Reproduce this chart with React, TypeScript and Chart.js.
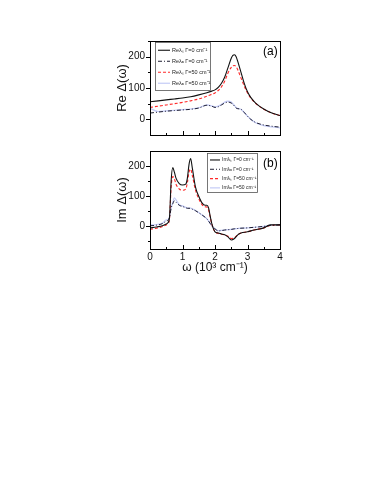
import React, { useEffect, useRef } from "react";
import { Chart, registerables } from "chart.js";
Chart.register(...registerables);

const FONT = "'Liberation Sans', Arial, Helvetica, sans-serif";

// ---------- Panel (a): Re Δ(ω) ----------
const reX = [0, 0.25, 0.5, 0.75, 1, 1.25, 1.5, 1.75, 1.9, 2.0, 2.1, 2.2, 2.3, 2.4, 2.5, 2.55, 2.6, 2.65, 2.7, 2.8, 2.9, 3.0, 3.1, 3.25, 3.5, 3.75, 4.0];
const reS0 = [56, 59, 62, 65, 68, 72, 78, 85, 90, 94, 102, 115, 135, 165, 195, 204, 206, 200, 185, 150, 115, 88, 70, 52, 33, 20, 12];
const reA0 = [20, 23, 26, 28, 30, 32, 36, 45, 42, 38, 40, 46, 52, 55, 52, 48, 42, 36, 34, 32, 22, 10, 0, -10, -18, -22, -25];
const reS50 = [38, 42, 46, 50, 54, 59, 65, 74, 80, 84, 92, 104, 122, 148, 166, 171, 172, 168, 158, 132, 106, 84, 68, 51, 32, 20, 12];
const reA50 = [35, 25, 27, 29, 31, 33, 37, 46, 43, 40, 42, 48, 55, 58, 55, 50, 44, 38, 35, 32, 22, 10, 0, -11, -20, -24, -27];
const reLabels = ["Reλₛ Γ=0 cm⁻¹", "Reλₐ Γ=0 cm⁻¹", "Reλₛ Γ=50 cm⁻¹", "Reλₐ Γ=50 cm⁻¹"];
const reYTicks = [0, 100, 200];
const reYMinor = [-50, 50, 150, 250];

// ---------- Panel (b): Im Δ(ω) ----------
const imX = [0, 0.2, 0.4, 0.5, 0.55, 0.6, 0.65, 0.7, 0.75, 0.8, 0.9, 1.0, 1.1, 1.15, 1.2, 1.25, 1.3, 1.4, 1.5, 1.6, 1.7, 1.75, 1.8, 1.85, 1.9, 2.0, 2.1, 2.2, 2.3, 2.4, 2.5, 2.6, 2.7, 2.8, 3.0, 3.2, 3.5, 3.7, 4.0];
const imS0 = [-5, -2, 3, 8, 12, 30, 150, 195, 180, 160, 142, 137, 140, 160, 205, 225, 195, 130, 100, 78, 70, 70, 62, 35, 10, -18, -22, -25, -28, -35, -45, -40, -28, -22, -18, -12, -5, 5, 5];
const imA0 = [2, 4, 10, 18, 20, 30, 60, 75, 85, 80, 70, 66, 62, 60, 60, 60, 57, 52, 45, 38, 30, 25, 18, 10, 2, -8, -15, -14, -12, -11, -10, -8, -7, -6, -5, -3, 0, 3, 5];
const imS50 = [-10, -6, 0, 5, 8, 25, 130, 165, 158, 140, 124, 120, 124, 145, 180, 190, 170, 120, 92, 72, 65, 64, 55, 32, 8, -18, -23, -26, -28, -33, -40, -38, -28, -22, -18, -12, -5, 3, 5];
const imA50 = [5, 6, 12, 22, 22, 32, 62, 78, 95, 88, 72, 68, 63, 61, 61, 61, 58, 53, 46, 38, 30, 25, 18, 10, 2, -8, -14, -13, -12, -11, -10, -8, -7, -6, -5, -3, 0, 4, 6];
const imLabels = ["Imλₛ Γ=0 cm⁻¹", "Imλₐ Γ=0 cm⁻¹", "Imλₛ Γ=50 cm⁻¹", "Imλₐ Γ=50 cm⁻¹"];
const imYTicks = [0, 100, 200];
const imYMinor = [-50, 50, 150];

const xTicks = [0, 1, 2, 3, 4];
const xMinor = [0.5, 1.5, 2.5, 3.5];

const styles = [
  { color: "#111111", dash: [] as number[], width: 1.1 },
  { color: "#1c1c30", dash: [4, 2, 1, 2], width: 1.0 },
  { color: "#ff2a2a", dash: [3, 2], width: 1.1 },
  { color: "#c4cbf6", dash: [] as number[], width: 1.2 },
];

function makeDatasets(xs: number[], series: number[][], labels: string[]) {
  return series.map((s, i) => ({
    label: labels[i],
    data: xs.map((x, j) => ({ x, y: s[j] })),
    borderColor: styles[i].color,
    borderDash: styles[i].dash,
    borderWidth: styles[i].width,
    pointRadius: 0,
    fill: false,
    cubicInterpolationMode: "monotone" as const,
  }));
}

function decorPlugin(opts: {
  id: string;
  panel: string;
  panelDx: number;
  panelDy: number;
  yMajor: number[];
  yMinor: number[];
  legend: { dx: number; dy: number; w: number; h: number; rowH: number; sample: number; font: number };
}) {
  return {
    id: opts.id,
    afterDraw(chart: any) {
      const { ctx, chartArea } = chart;
      const { left, right, top, bottom } = chartArea;
      const x = chart.scales.x;
      const y = chart.scales.y;
      ctx.save();
      ctx.strokeStyle = "#000";
      ctx.lineWidth = 1;
      ctx.setLineDash([]);
      ctx.strokeRect(Math.round(left) + 0.5, Math.round(top) + 0.5, Math.round(right - left), Math.round(bottom - top));
      ctx.beginPath();
      xTicks.forEach((v) => {
        const px = Math.round(x.getPixelForValue(v)) + 0.5;
        ctx.moveTo(px, bottom);
        ctx.lineTo(px, bottom - 4);
      });
      xMinor.forEach((v) => {
        const px = Math.round(x.getPixelForValue(v)) + 0.5;
        ctx.moveTo(px, bottom);
        ctx.lineTo(px, bottom - 2);
      });
      opts.yMajor.forEach((v) => {
        const py = Math.round(y.getPixelForValue(v)) + 0.5;
        ctx.moveTo(left - 4, py);
        ctx.lineTo(left, py);
      });
      opts.yMinor.forEach((v) => {
        const py = Math.round(y.getPixelForValue(v)) + 0.5;
        if (py < top || py > bottom) return;
        ctx.moveTo(left - 2, py);
        ctx.lineTo(left, py);
      });
      ctx.stroke();

      // panel label
      ctx.fillStyle = "#000";
      ctx.font = `12px ${FONT}`;
      ctx.textAlign = "left";
      ctx.textBaseline = "middle";
      ctx.fillText(opts.panel, right - opts.panelDx, top + opts.panelDy);

      // legend
      const L = opts.legend;
      const bx = left + L.dx;
      const by = top + L.dy;
      ctx.strokeStyle = "#555";
      ctx.lineWidth = 0.8;
      ctx.strokeRect(Math.round(bx) + 0.5, Math.round(by) + 0.5, L.w, L.h);
      chart.data.datasets.forEach((d: any, i: number) => {
        const ry = by + L.rowH * (i + 0.75);
        ctx.beginPath();
        ctx.strokeStyle = d.borderColor;
        ctx.lineWidth = d.borderWidth;
        ctx.setLineDash(d.borderDash || []);
        ctx.moveTo(bx + 3, ry);
        ctx.lineTo(bx + 3 + L.sample, ry);
        ctx.stroke();
        ctx.setLineDash([]);
        ctx.fillStyle = "#222";
        ctx.font = `${L.font}px ${FONT}`;
        ctx.textBaseline = "middle";
        ctx.fillText(d.label, bx + 5 + L.sample, ry);
      });
      ctx.restore();
    },
  };
}

function buildTop() {
  return {
    type: "line" as const,
    data: { datasets: makeDatasets(reX, [reS0, reA0, reS50, reA50], reLabels) },
    options: {
      responsive: false,
      animation: false as const,
      layout: { padding: { left: 25, right: 10, top: 9, bottom: 2 } },
      plugins: { legend: { display: false }, tooltip: { enabled: false } },
      scales: {
        x: { type: "linear" as const, min: 0, max: 4, display: false },
        y: {
          type: "linear" as const,
          min: -50,
          max: 250,
          afterBuildTicks: (s: any) => { s.ticks = reYTicks.map((v) => ({ value: v })); },
          afterFit: (s: any) => { s.width = 35; },
          grid: { display: false, drawTicks: false },
          border: { display: false },
          ticks: { padding: 5, color: "#111", font: { family: FONT, size: 10 } },
          title: { display: true, text: "Re Δ(ω)", color: "#111", padding: 0, font: { family: FONT, size: 13 } },
        },
      },
    },
    plugins: [decorPlugin({ id: "decA", panel: "(a)", panelDx: 17, panelDy: 11, yMajor: reYTicks, yMinor: reYMinor,
      legend: { dx: 5, dy: 1, w: 55, h: 48, rowH: 11, sample: 12, font: 5.5 } })],
  };
}

function buildBottom() {
  return {
    type: "line" as const,
    data: { datasets: makeDatasets(imX, [imS0, imA0, imS50, imA50], imLabels) },
    options: {
      responsive: false,
      animation: false as const,
      layout: { padding: { left: 25, right: 10, top: 4, bottom: 0 } },
      plugins: { legend: { display: false }, tooltip: { enabled: false } },
      scales: {
        x: {
          type: "linear" as const,
          min: 0,
          max: 4,
          afterBuildTicks: (s: any) => { s.ticks = xTicks.map((v) => ({ value: v })); },
          afterFit: (s: any) => { s.height = 26; },
          grid: { display: false, drawTicks: false },
          border: { display: false },
          ticks: { padding: 2, color: "#111", maxRotation: 0, font: { family: FONT, size: 10 } },
          title: { display: true, text: "ω (10³ cm⁻¹)", color: "#111", padding: 0, font: { family: FONT, size: 12 } },
        },
        y: {
          type: "linear" as const,
          min: -75,
          max: 250,
          afterBuildTicks: (s: any) => { s.ticks = imYTicks.map((v) => ({ value: v })); },
          afterFit: (s: any) => { s.width = 35; },
          grid: { display: false, drawTicks: false },
          border: { display: false },
          ticks: { padding: 5, color: "#111", font: { family: FONT, size: 10 } },
          title: { display: true, text: "Im Δ(ω)", color: "#111", padding: 0, font: { family: FONT, size: 13 } },
        },
      },
    },
    plugins: [decorPlugin({ id: "decB", panel: "(b)", panelDx: 17, panelDy: 13, yMajor: imYTicks, yMinor: imYMinor,
      legend: { dx: 57, dy: 2, w: 50, h: 39, rowH: 9.3, sample: 10, font: 5 } })],
  };
}

function Panel({ build, left, top, width, height }: { build: () => any; left: number; top: number; width: number; height: number }) {
  const ref = useRef<HTMLCanvasElement>(null);
  useEffect(() => {
    if (!ref.current) return;
    const chart = new Chart(ref.current, build());
    return () => chart.destroy();
  }, [build]);
  return (
    <canvas
      ref={ref}
      width={width}
      height={height}
      style={{ position: "absolute", left, top, width, height }}
    />
  );
}

export default function App() {
  return (
    <div style={{ position: "fixed", left: 0, top: 0, width: 388, height: 502, background: "#fff" }}>
      <Panel build={buildTop} left={90} top={30} width={200} height={116} />
      <Panel build={buildBottom} left={90} top={140} width={200} height={135} />
    </div>
  );
}
